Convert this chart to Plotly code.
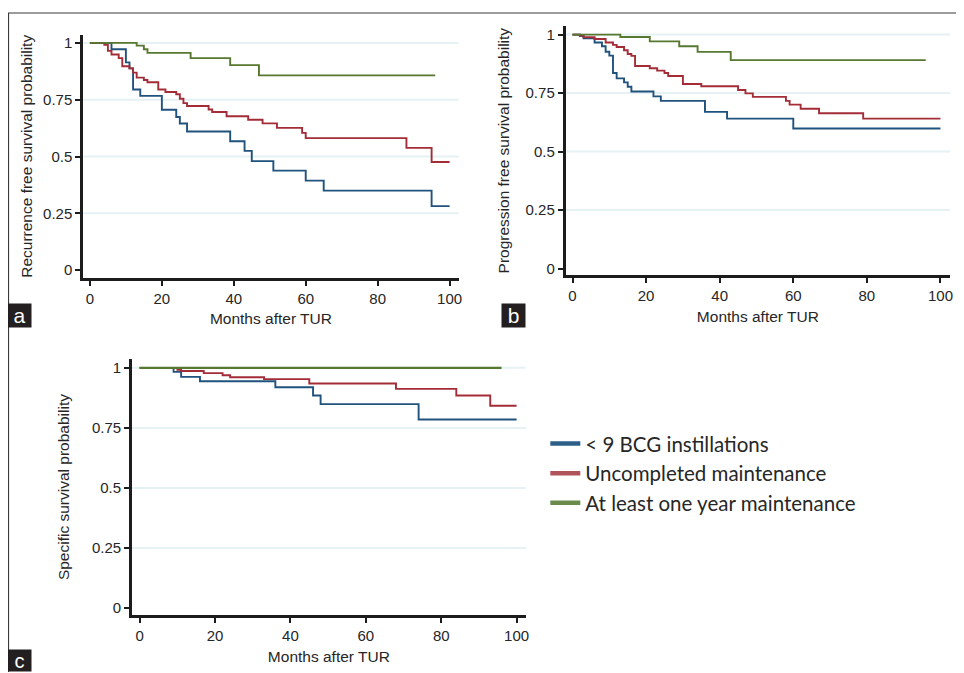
import plotly.graph_objects as go

# ---------------- data ----------------
series_names = ["< 9 BCG instillations", "Uncompleted maintenance", "At least one year maintenance"]
x_ticks = [0, 20, 40, 60, 80, 100]
y_ticks = [0, 0.25, 0.5, 0.75, 1]
y_tick_labels = ["0", "0.25", "0.5", "0.75", "1"]
grid_vals = [0.25, 0.5, 0.75, 1]
x_title = "Months after TUR"
panel_titles = ["Recurrence free survival probability",
                "Progression free survival probability",
                "Specific survival probability"]
panel_letters = ["a", "b", "c"]

# Panel a: recurrence free survival
a_blue_t = [0, 6, 10, 11, 12, 14, 20, 24, 25, 27, 39, 43, 45, 51, 60, 65, 95, 100]
a_blue_s = [1, 0.972, 0.914, 0.888, 0.795, 0.767, 0.706, 0.674, 0.645, 0.610, 0.567, 0.525,
            0.480, 0.438, 0.394, 0.350, 0.282, 0.282]
a_red_t = [0, 4, 5, 6, 8, 9, 11, 12, 13, 15, 16, 19, 21, 24, 25, 26, 27, 33, 34, 38, 44, 48,
           52, 59, 60, 88, 95, 100]
a_red_s = [1, 0.991, 0.965, 0.949, 0.933, 0.897, 0.888, 0.869, 0.847, 0.837, 0.827, 0.795,
           0.784, 0.774, 0.754, 0.735, 0.722, 0.707, 0.696, 0.677, 0.662, 0.646, 0.626, 0.604,
           0.581, 0.538, 0.476, 0.476]
a_green_t = [0, 13, 15, 16, 28, 39, 47, 96]
a_green_s = [1, 0.988, 0.972, 0.956, 0.933, 0.902, 0.857, 0.857]

# Panel b: progression free survival
b_blue_t = [0, 2, 3, 6, 8, 9, 10, 11, 12, 14, 15, 16, 22, 24, 36, 42, 60, 100]
b_blue_s = [1, 0.994, 0.984, 0.966, 0.95, 0.927, 0.91, 0.836, 0.813, 0.796, 0.777, 0.757,
            0.736, 0.717, 0.670, 0.641, 0.599, 0.599]
b_red_t = [0, 2, 3, 6, 9, 11, 12, 14, 15, 16, 17, 21, 23, 25, 26, 30, 35, 45, 47, 49, 58, 59,
           62, 67, 79, 100]
b_red_s = [1, 0.996, 0.989, 0.981, 0.966, 0.956, 0.947, 0.933, 0.917, 0.909, 0.866, 0.856,
           0.846, 0.836, 0.823, 0.789, 0.779, 0.763, 0.749, 0.734, 0.717, 0.701, 0.683, 0.664,
           0.641, 0.641]
b_green_t = [0, 13, 21, 29, 34, 43, 96]
b_green_s = [1, 0.99, 0.971, 0.95, 0.926, 0.891, 0.891]

# Panel c: specific survival
c_blue_t = [0, 9, 11, 16, 36, 46, 48, 74, 100]
c_blue_s = [1, 0.983, 0.9625, 0.944, 0.919, 0.885, 0.849, 0.785, 0.785]
c_red_t = [0, 10, 11, 17, 22, 24, 33, 45, 68, 84, 93, 100]
c_red_s = [1, 0.992, 0.987, 0.978, 0.969, 0.961, 0.953, 0.935, 0.9125, 0.885, 0.842, 0.842]
c_green_t = [0, 96]
c_green_s = [1, 1]

# ---------------- styling ----------------
# The page body has an 8px margin, so the figure is drawn 8px smaller and
# positions below are given in window pixels and shifted by that offset.
OFF = 8
W, H = 964 - OFF, 673 - OFF
line_colors = ["#20527e", "#a32c37", "#56782f"]
legend_colors = ["#2b5f87", "#b0535b", "#6a8a4b"]
axis_color = "#1c1c1c"
text_color = "#262626"
grid_color = "#e6f1f4"
font_family = "Liberation Sans, Arial, sans-serif"


def px_x(p):
    return (p - OFF) / W


def px_y(p):
    return 1 - (p - OFF) / H


panels = [
    dict(data=[(a_blue_t, a_blue_s), (a_red_t, a_red_s), (a_green_t, a_green_s)],
         xdom=[px_x(83.5), px_x(460)], ydom=[px_y(277.5), px_y(34)],
         xr=[-1.85, 102.5], yr=[-0.033, 1.035], standoff=7),
    dict(data=[(b_blue_t, b_blue_s), (b_red_t, b_red_s), (b_green_t, b_green_s)],
         xdom=[px_x(567.5), px_x(953)], ydom=[px_y(275.2), px_y(25)],
         xr=[-1.84, 102.6], yr=[-0.029, 1.037], standoff=13),
    dict(data=[(c_blue_t, c_blue_s), (c_red_t, c_red_s), (c_green_t, c_green_s)],
         xdom=[px_x(132.5), px_x(527.3)], ydom=[px_y(616), px_y(359)],
         xr=[-2.0, 102.4], yr=[-0.029, 1.037], standoff=19),
]

fig = go.Figure()
layout = dict(
    width=W, height=H, margin=dict(l=0, r=0, t=0, b=0),
    paper_bgcolor="white", plot_bgcolor="white",
    font=dict(family=font_family, size=15, color=text_color),
    showlegend=True,
    legend=dict(x=px_x(547), y=px_y(424), xanchor="left", yanchor="top",
                font=dict(family="Lato, Carlito, sans-serif", size=20.5, color="#262626"),
                itemwidth=30, bgcolor="rgba(0,0,0,0)", traceorder="normal"),
)
shapes = []
annotations = []

for i, p in enumerate(panels):
    sfx = "" if i == 0 else str(i + 1)
    xa, ya = "x" + sfx, "y" + sfx
    for k, (t, s) in enumerate(p["data"]):
        w = 2.4 if (i == 2 and k == 2) else 1.9
        fig.add_trace(go.Scatter(x=t, y=s, mode="lines",
                                 line=dict(color=line_colors[k], width=w, shape="hv"),
                                 xaxis=xa, yaxis=ya, showlegend=False, hoverinfo="skip"))
    common = dict(showline=True, linecolor=axis_color, linewidth=3, ticks="outside", ticklen=5,
                  tickwidth=2, tickcolor=axis_color, showgrid=False, zeroline=False,
                  tickfont=dict(size=15, color=text_color))
    layout["xaxis" + sfx] = dict(domain=p["xdom"], range=p["xr"], anchor=ya, tickvals=x_ticks,
                                 title=dict(text=x_title, font=dict(size=15.5, color=text_color),
                                            standoff=8),
                                 **common)
    layout["yaxis" + sfx] = dict(domain=p["ydom"], range=p["yr"], anchor=xa, tickvals=y_ticks,
                                 ticktext=y_tick_labels,
                                 title=dict(text=panel_titles[i], font=dict(size=15.5, color=text_color),
                                            standoff=p["standoff"]),
                                 **common)
    for g in grid_vals:
        shapes.append(dict(type="line", xref=xa + " domain", yref=ya, x0=0, x1=1, y0=g, y1=g,
                           line=dict(color=grid_color, width=2), layer="below"))

# legend entries
for k, name in enumerate(series_names):
    fig.add_trace(go.Scatter(x=[None], y=[None], mode="lines", name=name,
                             line=dict(color=legend_colors[k], width=4.5),
                             xaxis="x3", yaxis="y3", showlegend=True))

# panel letters
letter_pos = [(19.6, 315.3, 23, 21), (515.3, 315.3, 23, 21), (19.6, 661, 21, 20)]
for letter, (cx, cy, bh, fs) in zip(panel_letters, letter_pos):
    annotations.append(dict(x=px_x(cx), y=px_y(cy), xref="paper", yref="paper", text=letter,
                            showarrow=False, xanchor="center", yanchor="middle",
                            width=23, height=bh, bgcolor="#231f20", borderpad=0,
                            font=dict(family="Liberation Sans, Arial, sans-serif", size=fs, color="white")))

# outer frame (top and left rules)
shapes.append(dict(type="line", xref="paper", yref="paper", x0=px_x(8), x1=1, y0=px_y(12), y1=px_y(12),
                   line=dict(color="#3a3a3a", width=1.2)))
shapes.append(dict(type="line", xref="paper", yref="paper", x0=px_x(8.5), x1=px_x(8.5), y0=0, y1=px_y(12),
                   line=dict(color="#3a3a3a", width=1.2)))

layout["shapes"] = shapes
layout["annotations"] = annotations
fig.update_layout(**layout)
fig.write_html("out.html")
